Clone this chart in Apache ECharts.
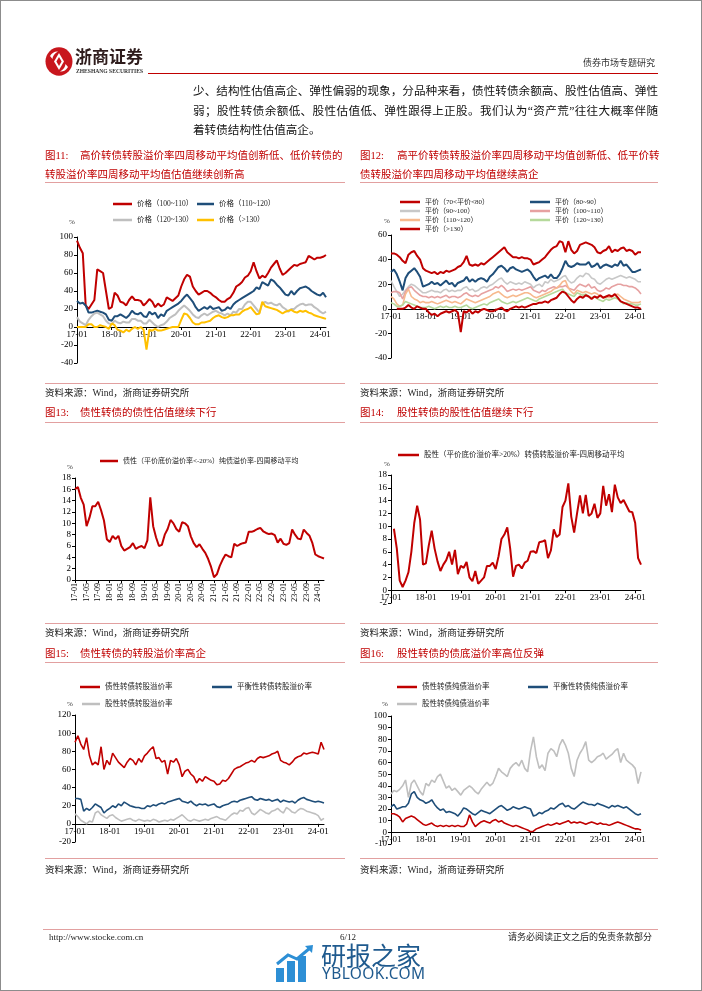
<!DOCTYPE html>
<html><head><meta charset="utf-8">
<script src="https://cdn.jsdelivr.net/npm/echarts/dist/echarts.min.js"></script>
<style>
html,body{margin:0;padding:0;background:#fff;}
#page{position:relative;width:702px;height:991px;overflow:hidden;background:#fff;}
#chart{position:absolute;left:0;top:0;width:702px;height:991px;}
.t{position:absolute;white-space:nowrap;font-family:"Liberation Serif","Noto Sans CJK SC",serif;color:#111;}
.title{color:#c00000;font-size:10.5px;line-height:19px;}
.title span{display:inline-block;}
.src{font-size:9.5px;line-height:12px;color:#222;}
.hl{position:absolute;height:1px;background:#e2a0a0;}
.para{position:absolute;left:193px;width:465px;font-size:11.6px;line-height:14px;color:#111;font-family:"Liberation Serif","Noto Sans CJK SC",serif;white-space:nowrap;}
.just{text-align:justify;text-align-last:justify;}
#frame{position:absolute;left:0;top:0;width:702px;height:991px;box-sizing:border-box;border:1px solid #8c8c8c;pointer-events:none;}
</style></head>
<body>
<div id="page">
<div id="chart"></div>

<!-- header -->
<svg style="position:absolute;left:45px;top:47px" width="28" height="29" viewBox="0 0 28 29">
  <ellipse cx="14" cy="14.5" rx="13.5" ry="14.2" fill="#c8161d"/>
  <path d="M14 6 L19 14.5 L14 23 L9 14.5 Z" fill="#fff"/>
  <path d="M14 10 L16.6 14.5 L14 19 L11.4 14.5 Z" fill="#c8161d"/>
  <path d="M5 9 Q8 4 13 4.5 Q8 7 7.5 12 Z" fill="#fff"/>
  <path d="M23 20 Q20 25 15 24.5 Q20 22 20.5 17 Z" fill="#fff"/>
</svg>
<div class="t" style="left:75px;top:46px;font-size:17px;line-height:20px;font-weight:bold;color:#2e1c1c;font-family:'Noto Sans CJK SC',sans-serif;">浙商证券</div>
<div class="t" style="left:76px;top:68px;font-size:5.6px;line-height:7px;font-weight:bold;color:#333;">ZHESHANG SECURITIES</div>
<div style="position:absolute;left:148px;top:73px;width:510px;height:1px;background:#c00000;"></div>
<div class="t" style="right:47px;top:57px;font-size:9px;line-height:12px;color:#333;">债券市场专题研究</div>

<div class="para just" style="top:85px;">少、结构性估值高企、弹性偏弱的现象，分品种来看，债性转债余额高、股性估值高、弹性</div>
<div class="para just" style="top:105px;">弱；股性转债余额低、股性估值低、弹性跟得上正股。我们认为“资产荒”往往大概率伴随</div>
<div class="para" style="top:124px;">着转债结构性估值高企。</div>

<!-- figure titles -->
<div class="t title" style="left:45px;top:145.5px;"><span style="width:35px">图11:</span>高价转债转股溢价率四周移动平均值创新低、低价转债的<br>转股溢价率四周移动平均值估值继续创新高</div>
<div class="t title" style="left:360px;top:145.5px;"><span style="width:37px">图12:</span>高平价转债转股溢价率四周移动平均值创新低、低平价转<br>债转股溢价率四周移动平均值继续高企</div>
<div class="hl" style="left:45px;top:182px;width:300px;"></div>
<div class="hl" style="left:360px;top:182px;width:298px;"></div>

<div class="hl" style="left:45px;top:383px;width:300px;"></div>
<div class="hl" style="left:360px;top:383px;width:298px;"></div>
<div class="t src" style="left:45px;top:387px;">资料来源：Wind，浙商证券研究所</div>
<div class="t src" style="left:360px;top:387px;">资料来源：Wind，浙商证券研究所</div>

<div class="t title" style="left:45px;top:402.5px;"><span style="width:35px">图13:</span>债性转债的债性估值继续下行</div>
<div class="t title" style="left:360px;top:402.5px;"><span style="width:37px">图14:</span>股性转债的股性估值继续下行</div>
<div class="hl" style="left:45px;top:422px;width:300px;"></div>
<div class="hl" style="left:360px;top:422px;width:298px;"></div>

<div class="hl" style="left:45px;top:623px;width:300px;"></div>
<div class="hl" style="left:360px;top:623px;width:298px;"></div>
<div class="t src" style="left:45px;top:627px;">资料来源：Wind，浙商证券研究所</div>
<div class="t src" style="left:360px;top:627px;">资料来源：Wind，浙商证券研究所</div>

<div class="t title" style="left:45px;top:643.5px;"><span style="width:35px">图15:</span>债性转债的转股溢价率高企</div>
<div class="t title" style="left:360px;top:643.5px;"><span style="width:37px">图16:</span>股性转债的债底溢价率高位反弹</div>
<div class="hl" style="left:45px;top:662px;width:300px;"></div>
<div class="hl" style="left:360px;top:662px;width:298px;"></div>

<div class="hl" style="left:45px;top:858px;width:300px;"></div>
<div class="hl" style="left:360px;top:858px;width:298px;"></div>
<div class="t src" style="left:45px;top:864px;">资料来源：Wind，浙商证券研究所</div>
<div class="t src" style="left:360px;top:864px;">资料来源：Wind，浙商证券研究所</div>

<!-- footer -->
<div class="hl" style="left:43px;top:929px;width:615px;"></div>
<div class="t" style="left:49px;top:932px;font-size:9px;line-height:11px;color:#222;">http://www.stocke.com.cn</div>
<div class="t" style="left:340px;top:932px;font-size:9px;line-height:11px;color:#222;">6/12</div>
<div class="t" style="right:50px;top:932px;font-size:9px;line-height:11px;color:#222;">请务必阅读正文之后的免责条款部分</div>

<svg style="position:absolute;left:275px;top:944px" width="40" height="38" viewBox="0 0 40 38">
  <rect x="1" y="24" width="8" height="14" fill="#2d8fd5"/>
  <rect x="12" y="17" width="8" height="21" fill="#2d8fd5"/>
  <rect x="23" y="12" width="8" height="26" fill="#2d8fd5"/>
  <polyline points="2,20 13,11 22,15 35,4" fill="none" stroke="#2d8fd5" stroke-width="3"/>
  <path d="M30 2 L38 1 L37 9 Z" fill="#2d8fd5"/>
</svg>
<div class="t" style="left:321px;top:940px;font-size:25px;line-height:28px;color:#1f5a8e;font-family:'Noto Sans CJK SC',sans-serif;">研报之家</div>
<div class="t" style="left:322px;top:965px;font-size:15.5px;line-height:17px;color:#1f5a8e;font-family:'Noto Sans','Open Sans',sans-serif;letter-spacing:0.4px;">YBLOOK.COM</div>

<div id="frame"></div>
</div>

<script>
// ---------- categories (monthly, 2017-01 .. 2024-03) ----------
const months = [];
for (let y = 17; y <= 24; y++) for (let m = 1; m <= 12; m++) if (months.length < 87) months.push(y + '-' + (m < 10 ? '0' + m : '' + m));

// ---------- 图11 ----------
const c11Names = ['价格（100~110）', '价格（110~120）', '价格（120~130）', '价格（>130）'];
const c11_100_110 = [96,88,82,24,20,25,30,64,62,60,40,20, 22,38,35,28,27,24,30,34,30,30,29,24, 27,31,28,22,26,23,25,33,31,29,32,35, 45,53,58,56,45,40,36,38,40,40,38,35, 33,30,28,28,31,33,38,45,47,50,55,57, 62,72,62,54,57,55,60,66,70,74,65,58, 60,63,66,69,68,70,71,72,79,77,75,77, 77,78,80];
const c11_110_120 = [29,26,27,24,16,16,17,18,17,16,14,8, 7,12,12,14,12,10,13,18,15,14,16,12, 11,17,14,16,10,14,12,18,20,22,24,26, 29,33,36,32,28,22,18,20,22,20,23,20, 21,22,18,19,22,20,25,28,30,32,34,36, 38,40,44,42,50,48,46,53,51,47,44,40, 36,35,40,36,40,43,44,45,43,40,38,36, 35,38,33];
const c11_120_130 = [11,6,4,2,8,12,15,16,14,12,7,4, 3,7,5,4,6,5,5,9,9,7,7,4, 4,8,5,2,0,2,3,6,10,12,14,18, 21,24,21,18,14,11,10,13,15,13,15,17, 18,16,15,13,15,13,17,16,20,20,25,28, 28,24,20,16,26,28,26,27,25,24,26,22, 20,17,20,20,23,25,26,24,25,25,22,20, 17,15,17];
const c11_gt130 = [0,0,0,0,3,3,0,0,2,1,0,-2, 4,2,-3,-4,-6,-3,-5,-2,0,-2,0,-3, -25,-3,-4,-2,-4,-4,-3,-2,-1,0,0,0, 8,15,14,10,5,3,3,5,5,6,7,10, 12,13,11,10,11,13,13,14,14,17,19,20, 22,18,14,15,28,23,22,21,20,19,17,15, 17,18,19,17,16,18,17,18,16,15,13,12, 11,10,9];

// ---------- 图12 ----------
const c12Names = ['平价（70<平价<80）', '平价（80~90）', '平价（90~100）', '平价（100~110）', '平价（110~120）', '平价（120~130）', '平价（>130）'];
const c12_70_80 = [45,45,44,42,39,37,44,46,47,43,40,33, 31,30,29,30,28,30,29,31,30,31,32,34, 35,38,43,36,35,36,35,37,36,38,40,42, 44,46,48,50,46,44,42,42,41,42,41,41, 40,36,37,38,40,42,45,48,50,51,55,54, 46,55,48,45,47,52,53,54,53,52,50,46, 45,47,48,51,46,48,47,49,50,47,48,47, 44,46,46];
const c12_80_90 = [30,32,28,22,15,25,29,31,33,30,26,18, 19,20,22,20,21,19,21,23,20,21,18,21, 22,23,26,22,24,22,24,25,24,22,26,28, 31,34,35,33,30,33,34,32,31,30,31,32, 30,26,23,25,26,27,25,28,25,25,28,33, 39,35,34,35,37,36,36,36,38,34,35,37, 33,35,36,35,34,36,35,39,35,36,33,30, 30,31,32];
const c12_90_100 = [23,18,14,10,12,15,18,20,19,17,15,13, 13,14,15,14,14,13,15,16,14,15,14,15, 15,17,18,15,16,14,15,17,18,17,19,20, 22,24,25,22,20,22,21,20,21,20,22,21, 20,17,19,20,18,22,21,24,22,23,24,26, 27,23,21,22,25,27,26,29,28,25,24,21, 20,22,24,25,24,25,26,27,26,25,26,25, 24,22,22];
const c12_100_110 = [13,14,14,13,8,14,17,18,15,13,11,10, 10,9,10,9,10,9,10,11,9,10,10,9, 10,12,13,11,10,11,10,12,13,14,15,16, 18,17,19,17,14,15,16,15,16,15,16,17, 18,15,14,13,15,14,16,17,18,17,18,18, 19,17,16,15,18,20,19,18,20,17,18,15, 14,15,17,16,18,19,20,20,19,19,18,18, 17,15,12];
const c12_110_120 = [10,8,4,2,3,12,16,10,8,7,5,6, 5,5,6,5,4,5,6,7,6,5,6,5, 4,6,8,7,6,5,6,7,8,9,10,12, 13,14,12,10,9,10,11,10,11,12,13,13, 12,10,9,10,11,12,13,14,16,17,19,22, 23,17,14,12,15,14,13,14,13,12,13,12, 10,9,10,9,10,11,12,10,8,7,6,5, 5,5,6];
const c12_120_130 = [5,4,2,2,3,6,5,4,3,2,1,1, 1,2,1,0,1,2,1,2,1,1,2,1, 1,2,3,1,0,1,2,3,4,3,5,6, 7,8,6,5,4,5,6,5,6,7,8,9, 8,7,6,8,9,10,11,12,13,14,15,16, 13,12,11,10,13,12,11,12,10,9,10,8, 7,6,8,7,8,9,8,6,4,5,4,4, 3,3,4];
const c12_gt130 = [null,null,0,0,0,1,3,1,0,2,1,0, 0,-3,-5,-4,-6,-4,-3,-2,-3,-2,-1,-3, -19,-2,-3,-1,-4,-2,-3,-1,0,-1,-2,-2, -1,0,1,-1,-2,0,1,2,1,2,1,2, 3,4,4,5,5,6,5,7,8,9,12,14, 13,10,7,5,8,10,9,11,10,8,10,9, 11,9,10,11,10,12,9,6,5,4,3,2, 1,1,0];

// ---------- 图13 ----------
const c13Name = '债性（平价底价溢价率<-20%）纯债溢价率-四周移动平均';
const c13_values = [16,16.4,14.5,13.3,9.5,11,13,13,13.8,12.3,10.5,7.2, 6.7,7.8,7.2,7.8,6,5.2,5.5,5.8,6.5,5.5,5.8,6, 5.6,7,14.6,9.5,7.5,6,6.2,8,9,10.6,10,9, 8.5,10.2,10,9.5,7.7,6.5,5.8,6.3,5.5,4.8,3.7,2.3, 0.5,1,2.5,3.6,4.5,4.2,4,6.4,6,6.3,6.5,6.6, 8.5,8.5,8.7,9,9.2,8.6,8.3,8.1,8.2,7.9,6.6,7.3, 6.4,6.2,6.5,8.9,8,7.3,7.2,8.9,8.3,7.8,6.5,4.5, 4.2,4,3.8];

// ---------- 图14 ----------
const c14Name = '股性（平价底价溢价率>20%）转债转股溢价率-四周移动平均';
const c14_values = [null,9.6,6.5,1.5,0.5,1.5,2.8,6,10.5,13.2,11,4, 4.2,7,9.3,6.5,4.5,3,4,4.7,6,4,6.3,2.5, 3.8,3.5,4.4,2,1.4,3,1,1.5,2,3.8,3.8,4.3, 3.3,5.3,8,8.7,9.8,6.5,2.1,3.8,4,3.4,4.3,4.6, 6,6.1,5.8,7.5,7.6,7.8,5,6.2,9.5,8.3,8.7,13, 14,16.7,11.5,9,12,14.8,12,14.9,11.6,12,13.5,11.3, 12,16.3,13.2,15,12.2,16.5,14.5,13.6,14.1,13.2,12.3,12.2, 10.5,5,4];

// ---------- 图15 ----------
const c15Names = ['债性转债转股溢价率', '平衡性转债转股溢价率', '股性转债转股溢价率'];
const c15_debt = [90,97,88,82,95,75,65,68,65,85,60,70, 65,78,73,68,65,62,68,72,70,65,72,68, 75,78,82,85,72,73,68,70,55,70,68,72, 65,52,58,60,55,52,45,50,47,52,50,48, 47,43,44,48,47,50,55,60,62,63,65,67, 68,70,68,72,74,73,74,75,77,78,80,70, 68,67,65,68,72,74,75,78,77,78,79,78, 77,90,82];
const c15_bal = [28,28,27,14,17,15,18,22,20,18,12,15, 17,20,18,22,20,24,22,20,19,18,18,17, 17,20,19,21,20,22,23,22,24,25,26,27, 28,25,24,23,25,22,20,22,21,22,20,21, 22,19,18,20,21,22,24,25,24,26,27,28, 29,30,27,26,28,27,26,27,25,26,27,24, 26,25,24,25,23,26,28,29,27,26,25,24, 25,24,23];
const c15_eq = [11,8,4,2,0,3,2,12,14,10,8,6, 9,10,7,5,3,4,5,6,4,3,5,4, 3,4,3,5,4,2,3,4,3,5,4,6, 8,10,7,4,3,5,4,3,4,5,4,6, 7,8,6,5,4,7,10,12,11,15,14,17, 18,12,10,13,16,14,12,11,14,15,17,14, 12,18,16,13,12,15,17,16,14,13,12,11, 9,4,6];

// ---------- 图16 ----------
const c16Names = ['债性转债纯债溢价率', '平衡性转债纯债溢价率', '股性转债纯债溢价率'];
const c16_debt = [16,16,15,13,9,12,13,14,13,11,9,7, 6,7,8,6,5,6,5,6,5,6,5,6, 5,5,7,15,9,5,7,9,10,9,8,10, 11,9,10,8,7,6,5,6,5,4,3,2, 0.5,1,3,4,5,6,7,6,7,8,7,8, 9,10,8,9,8,9,8,7,8,9,8,7, 8,7,7,6,7,8,9,8,7,6,5,4, 3,3,2];
const c16_bal = [22,24,20,21,22,22,25,33,35,30,28,27, 25,26,28,24,21,19,20,17,18,17,16,14, 17,21,20,18,16,15,17,19,18,17,16,18, 20,22,23,21,19,20,22,21,20,21,22,21, 20,14,15,17,16,18,19,21,20,22,24,25, 22,23,21,20,22,24,26,25,24,24,23,25, 24,23,22,21,23,22,23,22,21,22,20,18, 16,15,16];
const c16_eq = [33,36,35,37,40,45,30,42,45,40,35,32, 42,40,45,43,48,50,44,38,40,36,38,35, 32,36,38,40,38,35,33,37,40,43,40,42, 48,55,52,50,48,55,58,60,57,62,55,52, 70,82,65,55,58,53,68,72,70,65,75,80, 75,68,55,48,62,68,72,78,62,60,62,65, 66,68,63,65,67,70,72,60,68,62,60,58, 55,42,52];

// ---------- styling ----------
const FONT = '"Liberation Serif","Noto Sans CJK SC",serif';
const RED = '#c00000', BLUE = '#1f4e79', GRAY = '#bfbfbf', YEL = '#ffc000';
const PINK = '#e6a1a1', PEACH = '#f7b98e', GREEN = '#b5d99b';

const grids = [
  {left: 77, top: 237, width: 249, height: 126},
  {left: 391, top: 235, width: 250, height: 123},
  {left: 75, top: 478, width: 249, height: 102},
  {left: 391, top: 475, width: 250, height: 128},
  {left: 75, top: 715, width: 249, height: 127},
  {left: 391, top: 716, width: 250, height: 128}
];
const yCfg = [[-40, 100, 20], [-40, 60, 20], [0, 18, 2], [-2, 18, 2], [-20, 120, 20], [-10, 100, 10]];

// put the category axis (line + labels) on the zero line of the value axis
function zeroOffset(g) {
  const c = yCfg[g];
  return -(0 - c[0]) / (c[1] - c[0]) * grids[g].height;
}
function xAx(g, every, rot) {
  return {type: 'category', gridIndex: g, data: months, boundaryGap: false, offset: zeroOffset(g),
    axisLine: {onZero: false, lineStyle: {color: '#000', width: 1}},
    axisTick: {show: true, interval: (i) => i % every === 0, length: 3, lineStyle: {color: '#000'}},
    axisLabel: {interval: (i) => i % every === 0, fontSize: rot ? 8 : 9, fontFamily: FONT, color: '#000', margin: 3, rotate: rot || 0},
    splitLine: {show: false}};
}
function yAx(g) {
  const c = yCfg[g];
  return {type: 'value', gridIndex: g, min: c[0], max: c[1], interval: c[2],
    axisLine: {show: true, lineStyle: {color: '#000', width: 1}},
    axisTick: {show: true, length: 3, lineStyle: {color: '#000'}},
    axisLabel: {fontSize: 9, fontFamily: FONT, color: '#000', margin: 4},
    splitLine: {show: false}};
}
function ser(name, data, g, color, w) {
  return {type: 'line', name: name, data: data, xAxisIndex: g, yAxisIndex: g, showSymbol: false, symbol: 'none',
    lineStyle: {color: color, width: w}, itemStyle: {color: color}, connectNulls: false, animation: false};
}
function leg(name, left, yc, fs, iw) {
  return {data: [name], left: left, top: yc - 5, itemWidth: iw || 20, itemHeight: 2.5, icon: 'rect', itemGap: 0, padding: 0,
    selectedMode: false, textStyle: {fontSize: fs, lineHeight: 10, fontFamily: FONT, color: '#222'}};
}
function pct(x, y) {
  return {type: 'text', x: x, y: y, silent: true, style: {text: '%', fill: '#333', fontSize: 7, fontFamily: FONT, align: 'center', verticalAlign: 'middle'}};
}

const series = [
  ser(c11Names[0], c11_100_110, 0, RED, 2),
  ser(c11Names[1], c11_110_120, 0, BLUE, 2),
  ser(c11Names[2], c11_120_130, 0, GRAY, 2),
  ser(c11Names[3], c11_gt130, 0, YEL, 2),
  ser(c12Names[0], c12_70_80, 1, RED, 2),
  ser(c12Names[1], c12_80_90, 1, BLUE, 2),
  ser(c12Names[2], c12_90_100, 1, '#c8c8c8', 1.6),
  ser(c12Names[3], c12_100_110, 1, PINK, 1.6),
  ser(c12Names[4], c12_110_120, 1, PEACH, 1.6),
  ser(c12Names[5], c12_120_130, 1, GREEN, 1.6),
  ser(c12Names[6], c12_gt130, 1, RED, 2),
  ser(c13Name, c13_values, 2, RED, 2),
  ser(c14Name, c14_values, 3, RED, 2),
  ser(c15Names[0], c15_debt, 4, RED, 1.6),
  ser(c15Names[1], c15_bal, 4, BLUE, 1.6),
  ser(c15Names[2], c15_eq, 4, GRAY, 1.6),
  ser(c16Names[2], c16_eq, 5, GRAY, 1.6),
  ser(c16Names[1], c16_bal, 5, BLUE, 1.6),
  ser(c16Names[0], c16_debt, 5, RED, 1.6)
];

const legends = [
  leg(c11Names[0], 113, 204, 7.5, 19), leg(c11Names[1], 197, 204, 7.5, 17),
  leg(c11Names[2], 113, 220, 7.5, 19), leg(c11Names[3], 197, 220, 7.5, 17),
  leg(c12Names[0], 400, 202, 7), leg(c12Names[1], 530, 202, 7),
  leg(c12Names[2], 400, 211, 7), leg(c12Names[3], 530, 211, 7),
  leg(c12Names[4], 400, 220, 7), leg(c12Names[5], 530, 220, 7),
  leg(c12Names[6], 400, 229, 7),
  leg(c13Name, 100, 461, 7, 18),
  leg(c14Name, 398, 455, 7.5, 21),
  leg(c15Names[0], 80, 687, 7.5), leg(c15Names[1], 212, 687, 7.5), leg(c15Names[2], 82, 704, 7.5, 18),
  leg(c16Names[0], 397, 687, 7.5), leg(c16Names[1], 528, 687, 7.5), leg(c16Names[2], 397, 704, 7.5)
];

const option = {
  animation: false,
  backgroundColor: 'transparent',
  grid: grids,
  xAxis: [xAx(0, 12), xAx(1, 12), xAx(2, 4, 90), xAx(3, 12), xAx(4, 12), xAx(5, 12)],
  yAxis: [yAx(0), yAx(1), yAx(2), yAx(3), yAx(4), yAx(5)],
  legend: legends,
  series: series,
  graphic: [pct(72, 222), pct(387, 221), pct(70, 467), pct(387, 464), pct(70, 704), pct(385, 704)]
};

const chart = echarts.init(document.getElementById('chart'), null, {renderer: 'canvas'});
chart.setOption(option);
</script>
</body></html>
